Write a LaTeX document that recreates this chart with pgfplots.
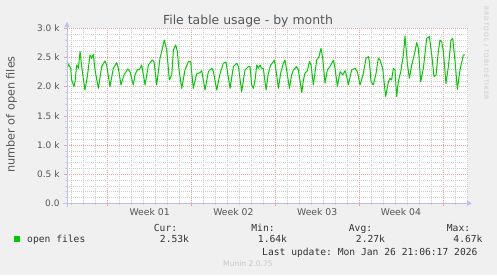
\documentclass[border=0pt]{standalone}
\usepackage{fontspec}
\setmainfont{DejaVu Sans}
\setmonofont{DejaVu Sans Mono}
\newfontfamily\wmfont[LetterSpace=15]{DejaVu Sans}
\usepackage{pgfplots}
\pgfplotsset{compat=1.18}
\usetikzlibrary{arrows.meta}
\definecolor{bg}{HTML}{F0F0F0}
\definecolor{txt}{HTML}{555555}
\definecolor{ltxt}{HTML}{333333}
\definecolor{mgrid}{HTML}{E8A0A0}
\definecolor{ngrid}{HTML}{CFCFCF}
\definecolor{axcol}{HTML}{BEBEF0}
\definecolor{plotgreen}{HTML}{00CC00}
\definecolor{wm}{HTML}{C8C8C8}

\pgfplotstableread{
x y
3.57 2257
3.71 2389
3.91 2314
3.99 2114
4.18 2000
4.27 2086
4.41 2371
4.55 2314
4.69 2600
4.88 2257
5.10 1943
5.30 2171
5.52 2543
5.66 2486
5.80 2554
5.94 2286
6.22 1971
6.50 2343
6.77 2440
6.91 2371
7.19 2000
7.47 2314
7.75 2411
7.89 2314
8.11 2029
8.36 2200
8.67 2303
8.86 2257
9.14 2029
9.28 2200
9.48 2297
9.64 2286
9.84 2371
10.12 2029
10.40 2371
10.73 2457
10.87 2429
11.09 2029
11.37 2486
11.57 2657
11.73 2800
11.93 2629
12.15 2114
12.35 2200
12.49 2629
12.68 2714
12.82 2600
12.96 2286
13.18 1971
13.46 2286
13.74 2429
13.93 2429
14.15 1971
14.43 2217
14.71 2240
14.85 2274
15.13 1943
15.41 2257
15.69 2314
15.83 2257
16.11 1943
16.39 2229
16.66 2400
16.88 2423
17.22 1971
17.50 2343
17.78 2400
17.92 2343
18.19 1914
18.47 2286
18.75 2343
18.89 2343
19.03 2029
19.17 1971
19.31 2114
19.45 2371
19.59 2314
19.73 2371
19.86 2314
20.00 2314
20.23 1943
20.42 2229
20.62 2371
20.84 2429
20.92 2457
21.06 2286
21.26 1971
21.45 2229
21.67 2400
21.81 2457
21.95 2286
22.18 1971
22.37 2200
22.51 2286
22.79 2343
22.93 2286
23.21 1897
23.35 2114
23.48 2229
23.68 2274
23.85 2429
23.99 2371
24.18 2029
24.46 2457
24.65 2514
24.82 2657
24.96 2486
25.16 2057
25.35 2286
25.57 2343
25.85 2457
25.99 2314
26.19 2000
26.41 2257
26.63 2200
26.83 2274
26.97 2171
27.10 2029
27.38 2286
27.66 2314
27.86 2257
28.08 2029
28.36 2229
28.58 2486
28.78 2514
28.86 2429
29.00 2086
29.19 2029
29.42 2229
29.61 2486
29.75 2457
29.97 2314
30.22 1829
30.45 2086
30.59 2143
30.72 2114
30.86 2314
31.00 2286
31.14 1829
31.28 2086
31.48 2257
31.70 2543
31.84 2869
32.03 2400
32.20 2143
32.40 2371
32.67 2600
32.81 2754
32.95 2657
33.15 2086
33.37 2314
33.65 2829
33.87 2857
34.07 2543
34.26 2171
34.43 2200
34.62 2600
34.76 2800
34.90 2771
35.04 2600
35.26 2057
35.46 2343
35.68 2800
35.82 2829
36.02 2429
36.21 1954
36.43 2286
36.71 2543
36.85 2543
}\files

\begin{document}
\begin{tikzpicture}[x=1bp,y=1bp]
\fill[bg] (0,0) rectangle (497,275);
\useasboundingbox (0,0) rectangle (497,275);
\begin{axis}[
  at={(67bp,71.7bp)}, anchor=south west, scale only axis,
  width=401bp, height=175bp,
  xmin=3.6, xmax=37.1, ymin=0, ymax=3000,
  axis line style={draw=none},
  axis background/.style={fill=white},
  xtick={7,14,21,28,35}, xticklabels={},
  minor xtick={4,5,6,8,9,10,11,12,13,15,16,17,18,19,20,22,23,24,25,26,27,29,30,31,32,33,34,36,37},
  ytick={0,500,1000,1500,2000,2500,3000},
  yticklabels={0.0,0.5 k,1.0 k,1.5 k,2.0 k,2.5 k,3.0 k},
  minor ytick={100,200,300,400,600,700,800,900,1100,1200,1300,1400,1600,1700,1800,1900,2100,2200,2300,2400,2600,2700,2800,2900},
  grid=both,
  major grid style={mgrid, dash pattern=on 1bp off 1bp, line width=0.6bp},
  minor grid style={ngrid, dash pattern=on 1bp off 1bp, line width=0.6bp},
  tick pos=left, tick align=outside,
  major tick length=3bp, minor tick length=2bp,
  major tick style={mgrid, line width=0.6bp},
  minor tick style={ngrid, line width=0.6bp},
  tick label style={font=\fontsize{9}{10}\selectfont, text=txt},
  yticklabel style={xshift=-1bp},
  extra x ticks={10.5,17.5,24.5,31.5},
  extra x tick labels={Week 01,Week 02,Week 03,Week 04},
  extra x tick style={grid=none, major tick length=0pt, xticklabel style={font=\fontsize{9.3}{10}\selectfont, text=txt, yshift=-1.5bp}},
]
\addplot[plotgreen, line width=1bp, line join=round] table[x=x,y=y] {\files};
\end{axis}
\draw[axcol, line width=1bp, -{Triangle[width=5bp,length=5bp]}] (63,71.7) -- (472,71.7);
\draw[axcol, line width=1bp, -{Triangle[width=5bp,length=5bp]}] (67,68) -- (67,253);
\node[anchor=base, font=\fontsize{12.5}{14}\selectfont, text=txt, inner sep=0] at (248,251) {File table usage - by month};
\node[rotate=90, anchor=base, font=\fontsize{11.3}{12}\selectfont, text=txt, inner sep=0] at (14.5,160.5) {number of open files};
\node[rotate=-90, anchor=base, font=\wmfont\fontsize{6}{7}\selectfont, text=wm, inner sep=0] at (484,221.7) {RRDTOOL / TOBI OETIKER};
\fill[plotgreen] (14,33) rectangle (20,39);
\begin{scope}[every node/.style={inner sep=0, font=\ttfamily\fontsize{9.7}{11}\selectfont, text=ltxt}]
\node[anchor=base west] at (27,32.3) {open files};
\node[anchor=base] at (165.5,44) {Cur:};
\node[anchor=base] at (263,44) {Min:};
\node[anchor=base] at (360.5,44) {Avg:};
\node[anchor=base] at (458.5,44) {Max:};
\node[anchor=base] at (174.5,32.3) {2.53k};
\node[anchor=base] at (272.5,32.3) {1.64k};
\node[anchor=base] at (370.5,32.3) {2.27k};
\node[anchor=base] at (468,32.3) {4.67k};
\node[anchor=base west] at (262,20) {Last update: Mon Jan 26 21:06:17 2026};
\end{scope}
\node[anchor=base, inner sep=0, font=\fontsize{7.6}{9}\selectfont, text=wm] at (248,8.3) {Munin 2.0.75};
\end{tikzpicture}
\end{document}
